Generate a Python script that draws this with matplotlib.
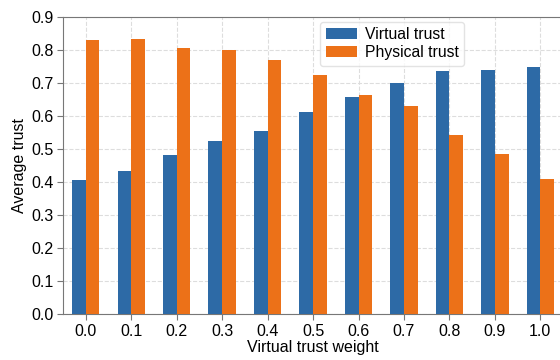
import matplotlib
matplotlib.use('Agg')
import matplotlib.pyplot as plt
import numpy as np

weights = [0.0, 0.1, 0.2, 0.3, 0.4, 0.5, 0.6, 0.7, 0.8, 0.9, 1.0]
virtual_trust = [0.406, 0.433, 0.482, 0.524, 0.555, 0.612, 0.658, 0.700, 0.736, 0.738, 0.748]
physical_trust = [0.830, 0.833, 0.805, 0.800, 0.768, 0.724, 0.664, 0.630, 0.542, 0.485, 0.409]

plt.rcParams['font.family'] = ['Liberation Sans', 'DejaVu Sans']
plt.rcParams['font.size'] = 11.5

blue = '#2d6aa6'
orange = '#ec7118'
w = 0.03

fig = plt.figure(figsize=(5.6, 3.6), dpi=100)
ax = fig.add_axes([0.1125, 0.128, 0.893, 0.825])

x = np.array(weights)
ax.bar(x - w / 2, virtual_trust, width=w, color=blue, label='Virtual trust', zorder=3)
ax.bar(x + w / 2, physical_trust, width=w, color=orange, label='Physical trust', zorder=3)

ax.set_xlim(-0.05, 1.05)
ax.set_ylim(0, 0.9)
ax.set_xticks(weights)
ax.set_xticklabels([f'{v:.1f}' for v in weights])
ax.set_yticks(np.arange(0, 0.91, 0.1))
ax.set_yticklabels([f'{v:.1f}' for v in np.arange(0, 0.91, 0.1)])
ax.grid(True, linestyle='--', color='#dddddd', linewidth=0.8, zorder=0)
for s in ax.spines.values():
    s.set_color('#777777')
ax.tick_params(colors='#777777', labelcolor='black', length=4, pad=3)
ax.set_xlabel('Virtual trust weight', labelpad=1)
ax.set_ylabel('Average trust', labelpad=3)

ax.legend(loc='upper left', bbox_to_anchor=(0.505, 1.0), frameon=True, fontsize=11.3,
          edgecolor='#dddddd', fancybox=True, handlelength=2.0, handletextpad=0.5,
          labelspacing=0.2, borderpad=0.35, borderaxespad=0.3)

fig.savefig('out.png', dpi=100)
